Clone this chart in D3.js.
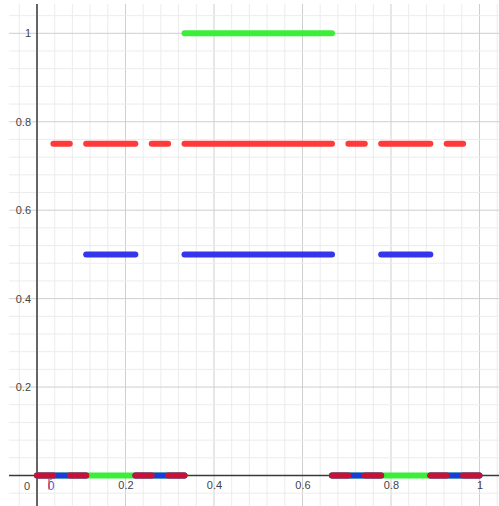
<!DOCTYPE html>
<html>
<head>
<meta charset="utf-8">
<script src="https://cdn.jsdelivr.net/npm/d3@7"></script>
<style>
  html, body { margin: 0; padding: 0; background: #fff; }
  text { font-family: "Liberation Sans", Arial, sans-serif; }
</style>
</head>
<body>
<div id="chart"></div>
<script>
// Step functions: breakpoints on x and the level on each interval
const greenX = [0, 1/3, 2/3, 1];
const greenY = [0, 1, 0];
const blueX = [0, 1/9, 2/9, 1/3, 2/3, 7/9, 8/9, 1];
const blueY = [0, 0.5, 0, 0.5, 0, 0.5, 0];
const redX = [0, 1/27, 2/27, 1/9, 2/9, 7/27, 8/27, 1/3, 2/3, 19/27, 20/27, 7/9, 8/9, 25/27, 26/27, 1];
const redY = [0, 0.75, 0, 0.75, 0, 0.75, 0, 0.75, 0, 0.75, 0, 0.75, 0, 0.75, 0];
const yTicks = [0.2, 0.4, 0.6, 0.8, 1];
const xTicks = [0.2, 0.4, 0.6, 0.8, 1];

const width = 499;
const height = 506;
const svg = d3.select("#chart")
  .append("svg")
  .attr("width", width)
  .attr("height", height);

// Scales
const x = d3.scaleLinear().domain([0, 1]).range([37, 479.5]);
const y = d3.scaleLinear().domain([0, 1]).range([475.5, 33.3]);

// Grid area
const gx0 = 9, gx1 = 499, gy0 = 4, gy1 = 506;
const grid = svg.append("g");
d3.range(-1, 27).forEach(i => {
  const px = x(i * 0.04);
  if (px < gx0 || px > gx1) return;
  grid.append("line")
    .attr("x1", px).attr("x2", px)
    .attr("y1", gy0).attr("y2", gy1)
    .attr("stroke", i % 5 === 0 ? "#cfcfcf" : "#ececec")
    .attr("stroke-width", 1);
});
d3.range(-1, 27).forEach(i => {
  const py = y(i * 0.04);
  if (py < gy0 || py > gy1) return;
  grid.append("line")
    .attr("x1", gx0).attr("x2", gx1)
    .attr("y1", py).attr("y2", py)
    .attr("stroke", i % 5 === 0 ? "#cfcfcf" : "#ececec")
    .attr("stroke-width", 1);
});

// Axes lines
svg.append("line")
  .attr("x1", x(0)).attr("x2", x(0))
  .attr("y1", gy0).attr("y2", gy1)
  .attr("stroke", "#3a3a3a").attr("stroke-width", 1.5);
svg.append("line")
  .attr("x1", gx0).attr("x2", gx1)
  .attr("y1", y(0)).attr("y2", y(0))
  .attr("stroke", "#3a3a3a").attr("stroke-width", 1.5);

// Tick labels
const yAxis = svg.append("g")
  .attr("transform", `translate(${x(0)}, 0)`)
  .call(d3.axisLeft(y).tickValues(yTicks).tickSize(0).tickPadding(6).tickFormat(d3.format("")));
const xAxis = svg.append("g")
  .attr("transform", `translate(0, ${y(0)})`)
  .call(d3.axisBottom(x).tickValues(xTicks).tickSize(0).tickPadding(6).tickFormat(d3.format("")));
[yAxis, xAxis].forEach(g => {
  g.select(".domain").remove();
  g.selectAll("text")
    .attr("fill", "#444")
    .style("font-size", "11px")
    .style("font-family", "'Liberation Sans', Arial, sans-serif");
});
svg.append("text")
  .attr("x", x(0) - 10)
  .attr("y", y(0) + 14)
  .attr("text-anchor", "middle")
  .attr("fill", "#444")
  .style("font-size", "11px")
  .text("0");

// Small point label near the origin, with a red and green marker stroke
svg.append("text")
  .attr("x", x(0) + 14).attr("y", y(0) + 14)
  .attr("text-anchor", "middle")
  .attr("fill", "#4a5af0")
  .style("font-size", "12px")
  .text("0");
svg.append("path")
  .attr("d", `M${x(0) + 12},${y(0) + 4}V${y(0) + 14}`)
  .attr("stroke", "#d8302a").attr("stroke-width", 1.2).attr("fill", "none");
svg.append("path")
  .attr("d", `M${x(0) + 11},${y(0) + 4}H${x(0) + 15}`)
  .attr("stroke", "#3aee3a").attr("stroke-width", 1.2).attr("fill", "none");

// Draw the step functions as separate segments
const line = d3.line()
  .x(d => x(d[0]))
  .y(d => y(d[1]));

function drawSteps(xs, ys, color, zeroColor) {
  ys.forEach((v, i) => {
    svg.append("path")
      .datum([[xs[i], v], [xs[i + 1], v]])
      .attr("d", line)
      .attr("fill", "none")
      .attr("stroke", v === 0 ? zeroColor : color)
      .attr("stroke-width", 6)
      .attr("stroke-linecap", "round");
  });
}

drawSteps(greenX, greenY, "#3aee3a", "#3aee3a");
drawSteps(blueX, blueY, "#3535ee", "#1d3ae0");
drawSteps(redX, redY, "#ff3a3a", "#cc1034");
</script>
</body>
</html>
